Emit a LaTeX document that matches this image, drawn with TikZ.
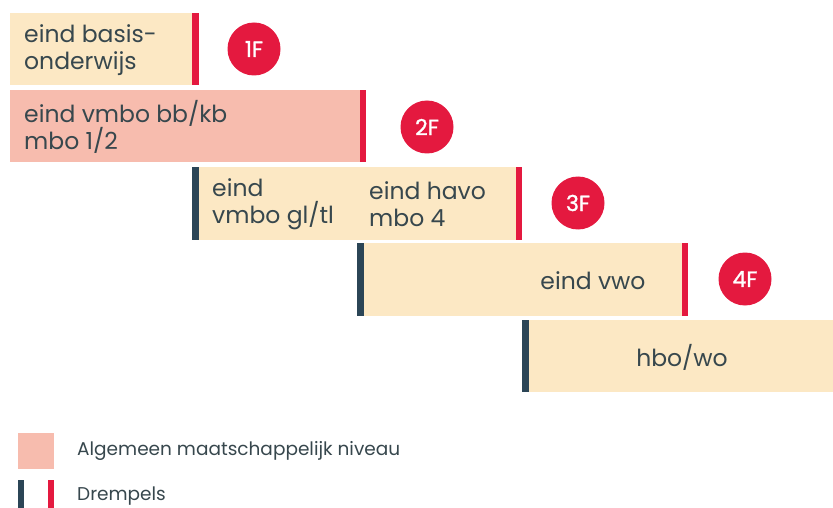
\documentclass[tikz,border=0pt]{standalone}
\usepackage{fontspec}
\setmainfont{Poppins}
\newfontfamily\badgefont{Poppins}[FakeBold=1.2]
\definecolor{cream}{HTML}{FCE8C4}
\definecolor{pinkbox}{HTML}{F7BCAE}
\definecolor{redbar}{HTML}{E4193F}
\definecolor{darkbar}{HTML}{2B4556}
\definecolor{txt}{HTML}{37474D}
\tikzset{
  box/.style={rectangle, draw=none, inner sep=0pt, anchor=north west},
  bar/.style={rectangle, draw=none, inner sep=0pt, minimum width=6.5pt, anchor=north west},
  lbl/.style={font=\fontsize{23.5}{27}\selectfont, text=txt, align=left, inner sep=0pt},
  badge/.style={circle, fill=redbar, minimum size=53pt, inner sep=0pt, text=white, font=\badgefont\fontsize{22}{22}\selectfont},
  leg/.style={font=\fontsize{18.5}{20}\selectfont, text=txt, anchor=west, inner sep=0pt}
}
\begin{document}
\begin{tikzpicture}[x=1pt,y=-1pt]
\useasboundingbox (0,0) rectangle (833,508);
% boxes
\node[box, fill=cream, minimum width=186pt, minimum height=72pt] (b1) at (10,13) {};
\node[box, fill=pinkbox, minimum width=356pt, minimum height=72pt] (b2) at (10,90) {};
\node[box, fill=cream, minimum width=330pt, minimum height=73pt] (b3) at (192,167) {};
\node[box, fill=cream, minimum width=331pt, minimum height=73pt] (b4) at (357,243) {};
\node[box, fill=cream, minimum width=311pt, minimum height=72pt] (b5) at (522,320) {};
% threshold bars
\node[bar, fill=redbar, minimum height=72pt] (r1) at (192,13) {};
\node[bar, fill=redbar, minimum height=72pt] (r2) at (359.5,90) {};
\node[bar, fill=darkbar, minimum height=73pt] (d3) at (192,167) {};
\node[bar, fill=redbar, minimum height=73pt] (r3) at (515.5,167) {};
\node[bar, fill=darkbar, minimum height=73pt] (d4) at (357,243) {};
\node[bar, fill=redbar, minimum height=73pt] (r4) at (681.5,243) {};
\node[bar, fill=darkbar, minimum height=72pt] (d5) at (522,320) {};
% labels
\node[lbl, anchor=west] (t1) at (24,50) {eind basis-\\onderwijs};
\node[lbl, anchor=west] (t2) at (24,127) {eind vmbo bb/kb\\mbo 1/2};
\node[lbl, anchor=west] (t3a) at (212,204) {eind\\vmbo gl/tl};
\node[lbl, anchor=west] (t3b) at (369,204) {eind havo\\mbo 4};
\node[lbl] (t4) at (593,281) {eind vwo};
\node[lbl] (t5) at (682,357) {hbo/wo};
% badges
\node[badge] (f1) at (254,49) {1F};
\node[badge] (f2) at (427,127) {2F};
\node[badge] (f3) at (578,203) {3F};
\node[badge] (f4) at (745,279) {4F};
% legend
\node[box, fill=pinkbox, minimum width=36pt, minimum height=36pt] (lp) at (18,433) {};
\node[leg] (l1) at (77,451) {Algemeen maatschappelijk niveau};
\node[bar, fill=darkbar, minimum width=6pt, minimum height=30pt] (ld) at (18,480) {};
\node[bar, fill=redbar, minimum width=6pt, minimum height=30pt] (lr) at (48,480) {};
\node[leg] (l2) at (77,496) {Drempels};
\end{tikzpicture}
\end{document}
